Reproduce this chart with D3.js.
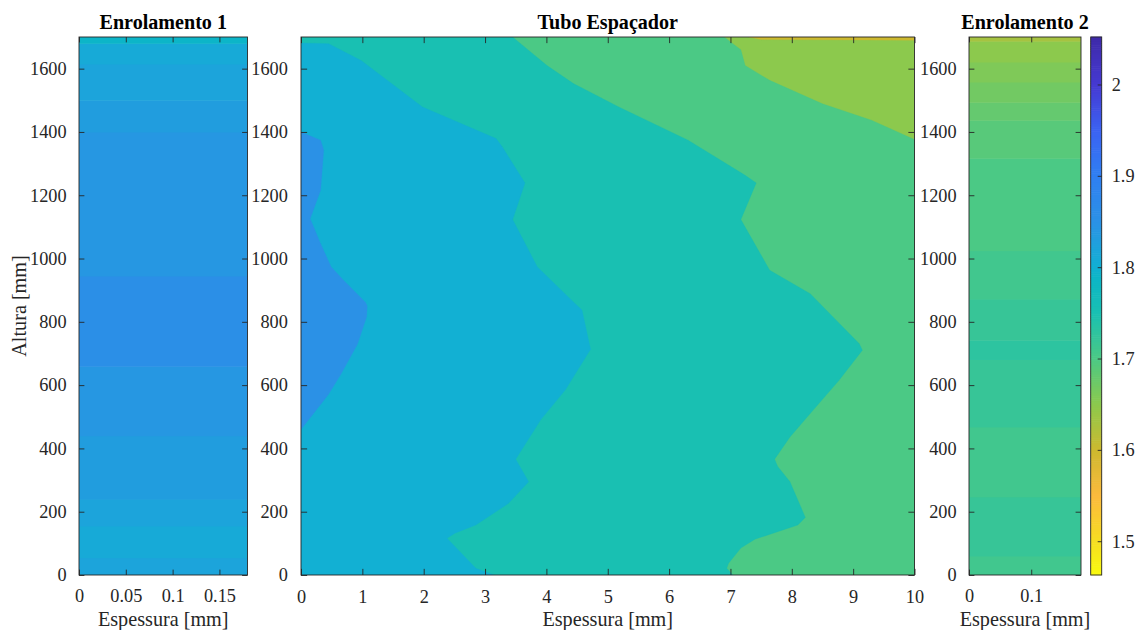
<!DOCTYPE html>
<html><head><meta charset="utf-8">
<script src="https://cdn.jsdelivr.net/npm/d3@7"></script>
<style>
body{margin:0;background:#fff;}
svg{display:block;font-family:"Liberation Serif","Times New Roman",serif;}
svg text{font-family:"Liberation Serif","Times New Roman",serif !important;}
</style>
</head><body>
<svg id="c" width="1137" height="630"></svg>
<script>
// ---------- data ----------
const heightTicks = [0, 200, 400, 600, 800, 1000, 1200, 1400, 1600];
const enr1XTicks = [0, 0.05, 0.1, 0.15];
const enr2XTicks = [0, 0.1];
const tuboXTicks = [0, 1, 2, 3, 4, 5, 6, 7, 8, 9, 10];
const cbTicks = [1.5, 1.6, 1.7, 1.8, 1.9, 2];
const colorLimits = [1.463, 2.052];

// colormap anchors (value -> colour)
const cmapValues = [1.463, 1.50, 1.55, 1.60, 1.65, 1.70, 1.75, 1.79, 1.80, 1.85, 1.90, 1.95, 2.00, 2.052];
const cmapColors = ["#f9fb0e", "#f6de22", "#fcba3d", "#cdb92f", "#8cc94d", "#4bc985", "#19c0b2", "#0cb5c8", "#12b0d3", "#2b91e6", "#2f7ff2", "#3b62f2", "#4539d2", "#3e2aa8"];

// Enrolamento 1 : horizontal bands (edges in mm, band level)
const enr1Edges  = [0, 55, 155, 240, 440, 660, 945, 1400, 1500, 1615, 1680, 1700];
const enr1Levels = [1.82, 1.81, 1.82, 1.83, 1.84, 1.855, 1.84, 1.83, 1.82, 1.81, 1.79];

// Enrolamento 2 : horizontal bands
const enr2Edges  = [0, 60, 247, 468, 681, 742, 872, 1025, 1317, 1437, 1494, 1558, 1621, 1687, 1700];
const enr2Levels = [1.71, 1.72, 1.71, 1.72, 1.73, 1.72, 1.71, 1.70, 1.69, 1.68, 1.67, 1.66, 1.65, 1.63];

// Tubo Espaçador : filled contour boundaries [espessura, altura]
const tuboBaseLevel = 1.65;
const tuboB60 = [[7.3, 1700], [7.5, 1692], [10, 1690], [10, 1700]];
const tuboB70 = [[6.9, 1700], [7.04, 1679], [7.17, 1660], [7.24, 1610], [7.64, 1563], [8.5, 1489], [9.3, 1437], [10, 1376], [10, 0], [0, 0], [0, 1700]];
const tuboB75 = [[3.45, 1700], [3.58, 1679], [4.01, 1610], [4.44, 1553], [5.18, 1479], [6.31, 1374], [7.24, 1263], [7.42, 1239], [7.17, 1123], [7.64, 963], [8.3, 889], [9.1, 731], [9.15, 710], [8.77, 615], [8.3, 510], [7.97, 436], [7.72, 366], [7.77, 343], [7.97, 295], [8.22, 182], [8.1, 158], [7.4, 113], [7.17, 85], [6.97, 37], [6.94, 21], [7.04, 0], [0, 0], [0, 1700]];
const tuboB80 = [[0, 1681], [0.45, 1679], [0.98, 1626], [1.98, 1479], [3.18, 1379], [3.28, 1353], [3.65, 1239], [3.45, 1123], [3.85, 974], [4.44, 863], [4.58, 837], [4.72, 713], [4.31, 585], [3.91, 491], [3.5, 366], [3.71, 295], [3.38, 226], [2.85, 158], [2.51, 132], [2.38, 116], [2.85, 21], [3.15, 0], [0, 0]];
const tuboB85 = [[0, 1400], [0.32, 1374], [0.37, 1342], [0.32, 1216], [0.15, 1126], [0.32, 1047], [0.49, 974], [0.69, 932], [1.05, 862], [1.08, 850], [1.07, 816], [0.92, 729], [0.65, 634], [0.45, 571], [0, 460]];
const tuboRegions = [
  {level: 1.60, pts: tuboB60},
  {level: 1.70, pts: tuboB70},
  {level: 1.75, pts: tuboB75},
  {level: 1.80, pts: tuboB80},
  {level: 1.85, pts: tuboB85}
];

// ---------- layout ----------
const svg = d3.select("#c");
const ink = "#262626";
const yTop = 37, yBot = 575;
const panels = {
  e1: {x0: 79, x1: 247.5, dom: [0, 0.18], ticks: enr1XTicks, title: "Enrolamento 1"},
  tb: {x0: 301, x1: 914.5, dom: [0, 10], ticks: tuboXTicks, title: "Tubo Espaçador"},
  e2: {x0: 969, x1: 1081, dom: [0, 0.18], ticks: enr2XTicks, title: "Enrolamento 2"}
};
const yScale = d3.scaleLinear().domain([0, 1700]).range([yBot, yTop]);
const cmap = d3.scaleLinear().domain(cmapValues).range(cmapColors).interpolate(d3.interpolateRgb).clamp(true);
const fmt = d => String(d);
const fontFam = "Liberation Serif";

function styleAxis(sel) {
  sel.attr("font-family", fontFam).attr("font-size", 18.3);
  sel.select(".domain").remove();
  sel.selectAll(".tick line").attr("stroke", ink).attr("stroke-width", 0.9);
  sel.selectAll(".tick text").attr("fill", ink).attr("font-family", fontFam).attr("font-size", 18.3);
}

function drawPanel(key, drawContent) {
  const p = panels[key];
  const xs = d3.scaleLinear().domain(p.dom).range([p.x0, p.x1]);
  const g = svg.append("g");
  const clipId = "clip-" + key;
  svg.append("clipPath").attr("id", clipId).append("rect")
    .attr("x", p.x0).attr("y", yTop).attr("width", p.x1 - p.x0).attr("height", yBot - yTop);
  const content = g.append("g").attr("clip-path", `url(#${clipId})`);
  drawContent(content, xs);

  const tl = Math.max(p.x1 - p.x0, yBot - yTop) * 0.01;
  g.append("rect").attr("x", p.x0).attr("y", yTop).attr("width", p.x1 - p.x0).attr("height", yBot - yTop)
    .attr("fill", "none").attr("stroke", ink).attr("stroke-width", 0.9);
  const axB = d3.axisBottom(xs).tickValues(p.ticks).tickFormat(fmt).tickSize(-tl).tickPadding(tl + 9);
  const axT = d3.axisTop(xs).tickValues(p.ticks).tickFormat("").tickSize(-tl);
  const axL = d3.axisLeft(yScale).tickValues(heightTicks).tickFormat(fmt).tickSize(-tl).tickPadding(tl + 7);
  const axR = d3.axisRight(yScale).tickValues(heightTicks).tickFormat("").tickSize(-tl);
  g.append("g").attr("transform", `translate(0,${yBot})`).call(axB).call(styleAxis);
  g.append("g").attr("transform", `translate(0,${yTop})`).call(axT).call(styleAxis);
  g.append("g").attr("transform", `translate(${p.x0},0)`).call(axL).call(styleAxis);
  g.append("g").attr("transform", `translate(${p.x1},0)`).call(axR).call(styleAxis);

  g.append("text").attr("x", (p.x0 + p.x1) / 2).attr("y", 28.5).attr("text-anchor", "middle")
    .attr("font-weight", "bold").attr("font-size", "20.1px").attr("fill", "#000").text(p.title);
  g.append("text").attr("x", (p.x0 + p.x1) / 2).attr("y", 625.5).attr("text-anchor", "middle")
    .attr("font-size", "20.2px").attr("fill", ink).text("Espessura [mm]");
}

function drawBands(edges, levels) {
  return (g, xs) => {
    g.selectAll("rect").data(levels).join("rect")
      .attr("x", xs.range()[0]).attr("width", xs.range()[1] - xs.range()[0])
      .attr("y", (d, i) => yScale(edges[i + 1]))
      .attr("height", (d, i) => yScale(edges[i]) - yScale(edges[i + 1]) + 0.5)
      .attr("fill", d => cmap(d));
  };
}

drawPanel("e1", drawBands(enr1Edges, enr1Levels));
drawPanel("e2", drawBands(enr2Edges, enr2Levels));
drawPanel("tb", (g, xs) => {
  g.append("rect").attr("x", xs(0)).attr("y", yScale(1700)).attr("width", xs(10) - xs(0))
    .attr("height", yScale(0) - yScale(1700)).attr("fill", cmap(tuboBaseLevel));
  const line = d3.line().x(d => xs(d[0])).y(d => yScale(d[1]));
  g.selectAll("path.reg").data(tuboRegions).join("path").attr("class", "reg")
    .attr("d", d => line(d.pts) + "Z").attr("fill", d => cmap(d.level))
    .attr("stroke", d => cmap(d.level)).attr("stroke-width", 0.3);
});

svg.append("text").attr("transform", "translate(25.5,306) rotate(-90)").attr("text-anchor", "middle")
  .attr("font-size", "20.2px").attr("fill", ink).text("Altura [mm]");

// colour bar
const cb = {x0: 1090.7, x1: 1101.7};
const cbScale = d3.scaleLinear().domain(colorLimits).range([yBot, yTop]);
const nSteps = 256;
const stepVals = d3.range(nSteps).map(i => colorLimits[0] + (i + 0.5) * (colorLimits[1] - colorLimits[0]) / nSteps);
const stepH = (yBot - yTop) / nSteps;
svg.append("g").selectAll("rect").data(stepVals).join("rect")
  .attr("x", cb.x0).attr("width", cb.x1 - cb.x0)
  .attr("y", d => cbScale(d) - stepH / 2 - 0.3).attr("height", stepH + 0.6)
  .attr("fill", d => cmap(d));
svg.append("rect").attr("x", cb.x0).attr("y", yTop).attr("width", cb.x1 - cb.x0).attr("height", yBot - yTop)
  .attr("fill", "none").attr("stroke", ink).attr("stroke-width", 0.9);
const cbAxis = d3.axisRight(cbScale).tickValues(cbTicks).tickFormat(fmt).tickSize(-4).tickPadding(10);
svg.append("g").attr("transform", `translate(${cb.x1},0)`).call(cbAxis).call(styleAxis);
</script>
</body></html>
